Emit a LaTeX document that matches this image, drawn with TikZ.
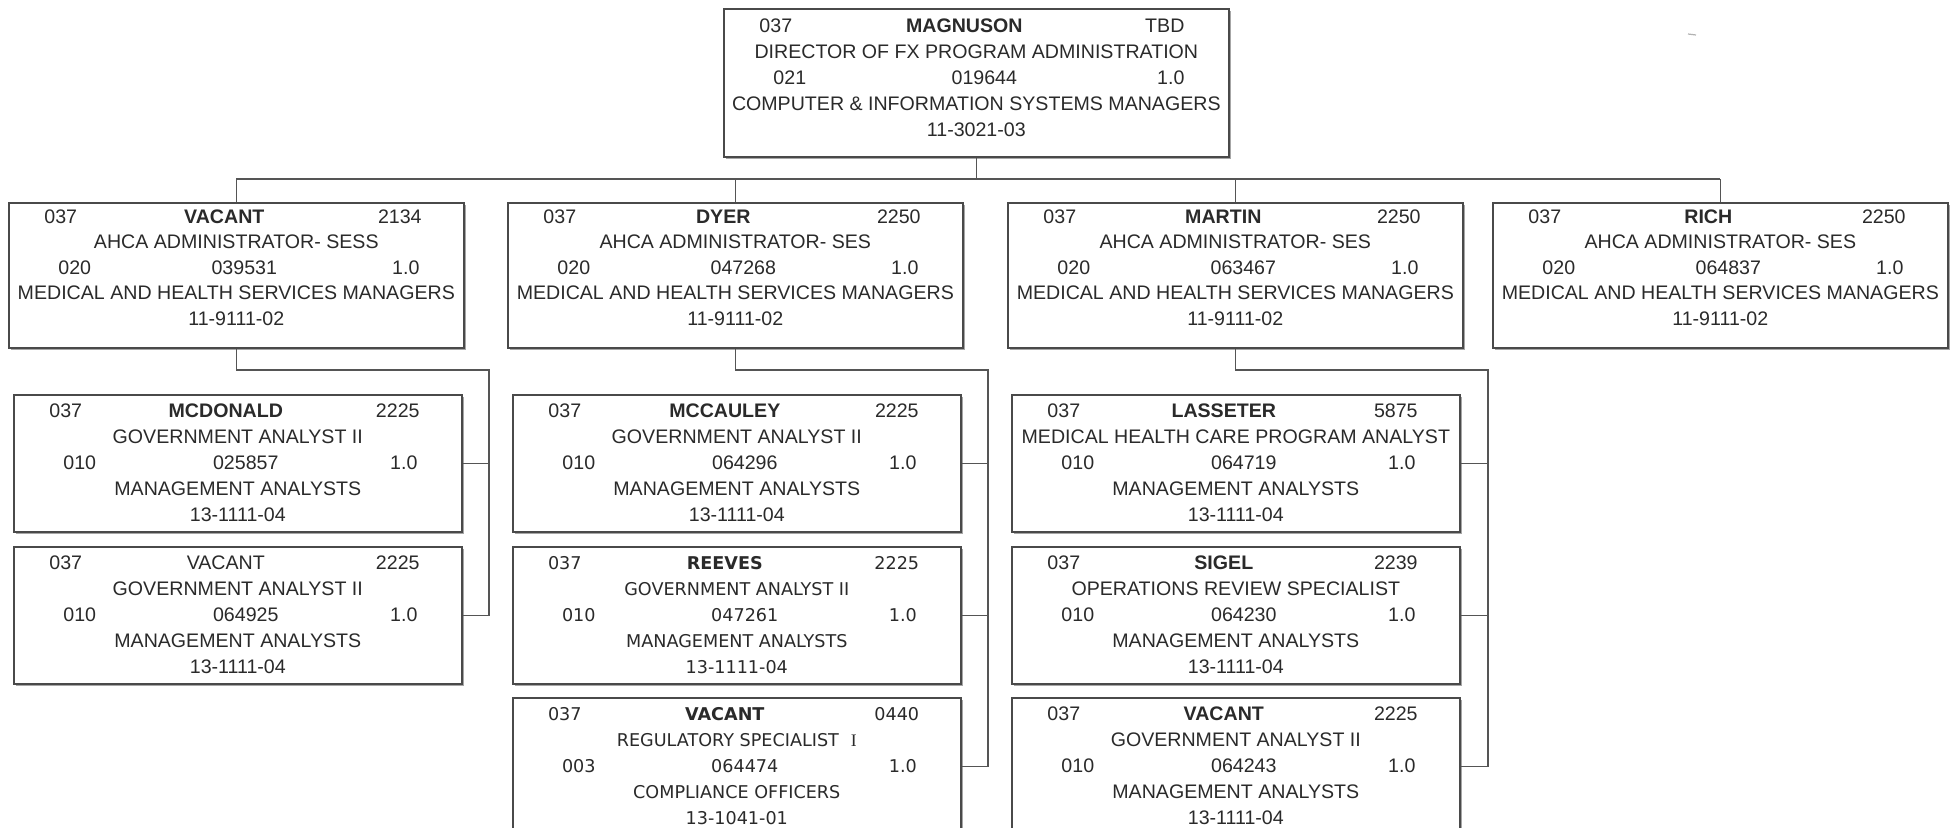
\documentclass[tikz,border=0pt]{standalone}
\usepackage{fontspec}
\setmainfont{Liberation Sans}
\newfontfamily\verdfont{DejaVu Sans}
\newfontfamily\seriffont{Liberation Serif}
\usetikzlibrary{shadows}
\definecolor{framegray}{HTML}{4A4A4A}
\definecolor{txtgray}{HTML}{2A2A2A}
\definecolor{linegray}{HTML}{555555}

\begin{document}
\begin{tikzpicture}[x=0.5pt,y=-0.5pt,
  card/.style={draw=framegray,line width=0.8pt,fill=white,inner sep=0pt,anchor=north west,
    text=txtgray,font=\fontsize{9.8}{13}\selectfont,
    drop shadow={shadow xshift=1.1pt,shadow yshift=-1.1pt,opacity=0.35,fill=black}},
  acard/.style={card,font=\fontsize{9.8}{12.75}\selectfont},
  vcard/.style={card,font=\verdfont\fontsize{8.8}{13}\selectfont},
  link/.style={draw=linegray,line width=0.75pt}]
\def\rowa#1#2#3{\leavevmode\hbox to\linewidth{\hbox to52pt{\hss#1\hss}\hfill\hbox to0pt{\hss#2\hss}\hfill\hbox to64pt{\hss#3\hss}}}
\def\rowb#1#2#3{\leavevmode\hbox to\linewidth{\hbox to66pt{\hss#1\hss}\hfill\hbox to0pt{\hss#2\hss}\hfill\hbox to58pt{\hss#3\hss}}}
\def\cardtext#1#2#3#4{\parbox[c][#2][t]{#1}{\centering\vspace*{#3}\noindent#4}}
\useasboundingbox (0,0) rectangle (1958,828);
\clip (0,0) rectangle (1958,828);

% director
\node[card] (dir) at (723,8) {\cardtext{252.5pt}{74pt}{5.2pt}{\rowa{037}{\textbf{MAGNUSON}}{TBD}\\
  DIRECTOR OF FX PROGRAM ADMINISTRATION\\ \rowb{021}{019644}{1.0}\\
  COMPUTER \& INFORMATION SYSTEMS MANAGERS\\ 11-3021-03}};

% administrators
\node[acard] (vac) at (8,202) {\cardtext{227.5pt}{72.5pt}{3.5pt}{\rowa{037}{\textbf{VACANT}}{2134}\\
  AHCA ADMINISTRATOR- SESS\\ \rowb{020}{039531}{1.0}\\
  MEDICAL AND HEALTH SERVICES MANAGERS\\ 11-9111-02}};
\node[acard] (dyer) at (507,202) {\cardtext{227.5pt}{72.5pt}{3.5pt}{\rowa{037}{\textbf{DYER}}{2250}\\
  AHCA ADMINISTRATOR- SES\\ \rowb{020}{047268}{1.0}\\
  MEDICAL AND HEALTH SERVICES MANAGERS\\ 11-9111-02}};
\node[acard] (martin) at (1007,202) {\cardtext{227.5pt}{72.5pt}{3.5pt}{\rowa{037}{\textbf{MARTIN}}{2250}\\
  AHCA ADMINISTRATOR- SES\\ \rowb{020}{063467}{1.0}\\
  MEDICAL AND HEALTH SERVICES MANAGERS\\ 11-9111-02}};
\node[acard] (rich) at (1492,202) {\cardtext{227.5pt}{72.5pt}{3.5pt}{\rowa{037}{\textbf{RICH}}{2250}\\
  AHCA ADMINISTRATOR- SES\\ \rowb{020}{064837}{1.0}\\
  MEDICAL AND HEALTH SERVICES MANAGERS\\ 11-9111-02}};

% analysts under vacant
\node[card] (mcd) at (13,394) {\cardtext{224pt}{68.5pt}{4.7pt}{\rowa{037}{\textbf{MCDONALD}}{2225}\\
  GOVERNMENT ANALYST II\\ \rowb{010}{025857}{1.0}\\ MANAGEMENT ANALYSTS\\ 13-1111-04}};
\node[card] (vacgov) at (13,546) {\cardtext{224pt}{68.5pt}{4.7pt}{\rowa{037}{VACANT}{2225}\\
  GOVERNMENT ANALYST II\\ \rowb{010}{064925}{1.0}\\ MANAGEMENT ANALYSTS\\ 13-1111-04}};

% analysts under dyer
\node[card] (mcc) at (512,394) {\cardtext{224pt}{68.5pt}{4.7pt}{\rowa{037}{\textbf{MCCAULEY}}{2225}\\
  GOVERNMENT ANALYST II\\ \rowb{010}{064296}{1.0}\\ MANAGEMENT ANALYSTS\\ 13-1111-04}};
\node[vcard] (reeves) at (512,546) {\cardtext{224pt}{68.5pt}{4.7pt}{\rowa{037}{\textbf{REEVES}}{2225}\\
  GOVERNMENT ANALYST II\\ \rowb{010}{047261}{1.0}\\ MANAGEMENT ANALYSTS\\ 13-1111-04}};
\node[vcard] (vacreg) at (512,697) {\cardtext{224pt}{68.5pt}{4.7pt}{\rowa{037}{\textbf{VACANT}}{0440}\\
  REGULATORY SPECIALIST\hspace{6pt}{\seriffont I}\\ \rowb{003}{064474}{1.0}\\ COMPLIANCE OFFICERS\\ 13-1041-01}};

% analysts under martin
\node[card] (lass) at (1011,394) {\cardtext{224pt}{68.5pt}{4.7pt}{\rowa{037}{\textbf{LASSETER}}{5875}\\
  MEDICAL HEALTH CARE PROGRAM ANALYST\\ \rowb{010}{064719}{1.0}\\ MANAGEMENT ANALYSTS\\ 13-1111-04}};
\node[card] (sigel) at (1011,546) {\cardtext{224pt}{68.5pt}{4.7pt}{\rowa{037}{\textbf{SIGEL}}{2239}\\
  OPERATIONS REVIEW SPECIALIST\\ \rowb{010}{064230}{1.0}\\ MANAGEMENT ANALYSTS\\ 13-1111-04}};
\node[card] (vacgovm) at (1011,697) {\cardtext{224pt}{68.5pt}{4.7pt}{\rowa{037}{\textbf{VACANT}}{2225}\\
  GOVERNMENT ANALYST II\\ \rowb{010}{064243}{1.0}\\ MANAGEMENT ANALYSTS\\ 13-1111-04}};

% dir -> administrators
\coordinate (bus) at (0,179);
\draw[link] (dir.south) -- (dir.south |- bus);
\draw[link] (vac.north |- bus) -- (rich.north |- bus);
\foreach \n in {vac,dyer,martin,rich} \draw[link] (\n.north) -- (\n.north |- bus);

% administrators -> analysts
\coordinate (spineA) at (489,370);
\coordinate (spineB) at (988,370);
\coordinate (spineC) at (1488,370);
\draw[link] (vac.south) |- (spineA) |- (vacgov.east);
\draw[link] (mcd.east) -- (mcd.east -| spineA);
\draw[link] (dyer.south) |- (spineB) |- (vacreg.east);
\foreach \n in {mcc,reeves} \draw[link] (\n.east) -- (\n.east -| spineB);
\draw[link] (martin.south) |- (spineC) |- (vacgovm.east);
\foreach \n in {lass,sigel} \draw[link] (\n.east) -- (\n.east -| spineC);

\draw[gray!60,line width=0.6pt] (1688,34) -- (1696,35);
\end{tikzpicture}
\end{document}
